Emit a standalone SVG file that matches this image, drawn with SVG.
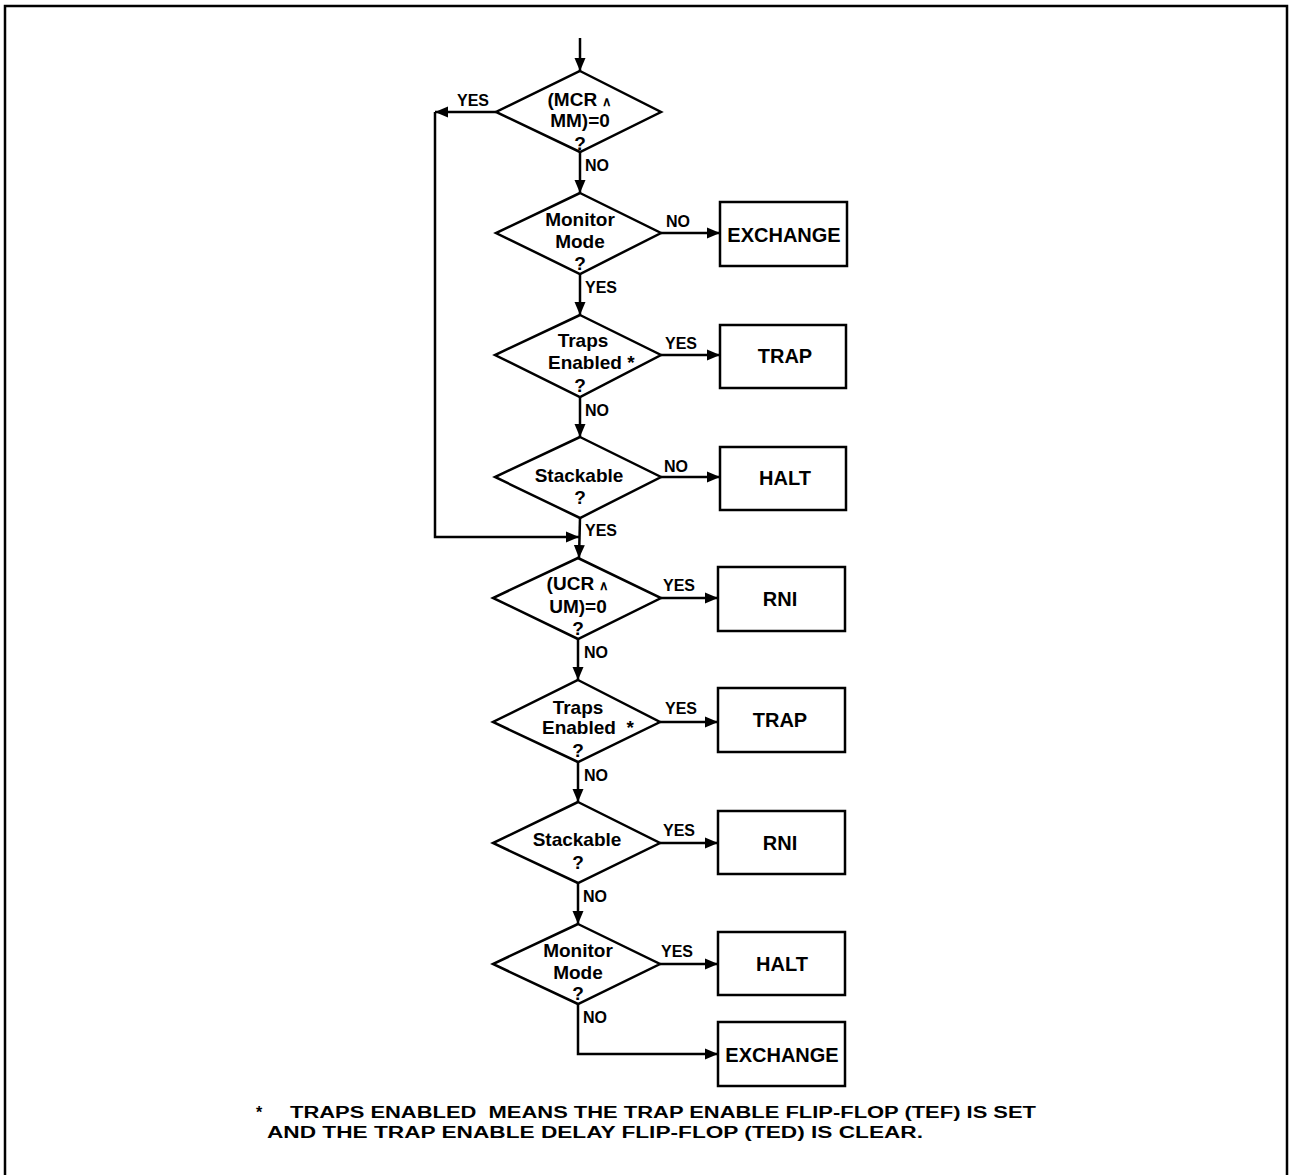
<svg xmlns="http://www.w3.org/2000/svg" width="1295" height="1175" viewBox="0 0 1295 1175">
<style>
.shape{fill:#fff;stroke:#000;stroke-width:2.5}
.line{fill:none;stroke:#000;stroke-width:2.5}
.t{font-family:"Liberation Sans",Arial,sans-serif;font-weight:bold;fill:#000}
.dt{font-size:19px;text-anchor:middle}
.ds{font-size:19px;text-anchor:start}
.bt{font-size:20px;text-anchor:middle}
.lb{font-size:16px}
.fn{font-size:16px}
</style>
<defs>
<marker id="ah" markerUnits="userSpaceOnUse" markerWidth="14" markerHeight="12" refX="13" refY="6" orient="auto">
<path d="M0,0.5 L13,6 L0,11.5 Z" fill="#000"/>
</marker>
</defs>
<rect width="1295" height="1175" fill="#fff"/>
<path d="M5,1175 V6 H1287 V1175" class="line" stroke-width="3"/>

<g id="connectors">
<path d="M580,38 V71" class="line" marker-end="url(#ah)"/>
<path d="M496,112 H435" class="line" marker-end="url(#ah)"/>
<path d="M435,112 V537 H579" class="line" marker-end="url(#ah)"/>
<path d="M580,152 V193" class="line" marker-end="url(#ah)"/>
<path d="M661,233 H720" class="line" marker-end="url(#ah)"/>
<path d="M580,274 V315" class="line" marker-end="url(#ah)"/>
<path d="M661,355 H720" class="line" marker-end="url(#ah)"/>
<path d="M580,397 V437" class="line" marker-end="url(#ah)"/>
<path d="M661,477 H720" class="line" marker-end="url(#ah)"/>
<path d="M580,518 L579,558" class="line" marker-end="url(#ah)"/>
<path d="M661,598 H718" class="line" marker-end="url(#ah)"/>
<path d="M578,639 V680" class="line" marker-end="url(#ah)"/>
<path d="M660,722 H718" class="line" marker-end="url(#ah)"/>
<path d="M578,762 V802" class="line" marker-end="url(#ah)"/>
<path d="M660,843 H718" class="line" marker-end="url(#ah)"/>
<path d="M578,883 V924" class="line" marker-end="url(#ah)"/>
<path d="M660,964 H718" class="line" marker-end="url(#ah)"/>
<path d="M578,1004 V1054 H718" class="line" marker-end="url(#ah)"/>
<text class="t lb" x="457" y="106">YES</text>
<text class="t lb" x="585" y="171">NO</text>
<text class="t lb" x="666" y="227">NO</text>
<text class="t lb" x="585" y="293">YES</text>
<text class="t lb" x="665" y="349">YES</text>
<text class="t lb" x="585" y="416">NO</text>
<text class="t lb" x="664" y="472">NO</text>
<text class="t lb" x="585" y="536">YES</text>
<text class="t lb" x="663" y="591">YES</text>
<text class="t lb" x="584" y="658">NO</text>
<text class="t lb" x="665" y="714">YES</text>
<text class="t lb" x="584" y="781">NO</text>
<text class="t lb" x="663" y="836">YES</text>
<text class="t lb" x="583" y="902">NO</text>
<text class="t lb" x="661" y="957">YES</text>
<text class="t lb" x="583" y="1023">NO</text>
</g>

<g id="d1">
<polygon class="shape" points="580,71 661,112 580,152 496,112"/>
<text class="t dt" x="580" y="106">(MCR <tspan font-size="13">∧</tspan></text>
<text class="t dt" x="580" y="127">MM)=0</text>
<text class="t dt" x="580" y="150">?</text>
</g>
<g id="d2">
<polygon class="shape" points="580,193 661,233 580,274 496,233"/>
<text class="t dt" x="580" y="226">Monitor</text>
<text class="t dt" x="580" y="248">Mode</text>
<text class="t dt" x="580" y="270">?</text>
</g>
<g id="d3">
<polygon class="shape" points="580,315 661,355 580,397 495,355"/>
<text class="t dt" x="583" y="347">Traps</text>
<text class="t ds" x="548" y="369">Enabled *</text>
<text class="t dt" x="580" y="392">?</text>
</g>
<g id="d4">
<polygon class="shape" points="580,437 661,477 580,518 495,477"/>
<text class="t dt" x="579" y="482">Stackable</text>
<text class="t dt" x="580" y="504">?</text>
</g>
<g id="d5">
<polygon class="shape" points="578,558 661,598 578,639 493,598"/>
<text class="t dt" x="578" y="590">(UCR <tspan font-size="13">∧</tspan></text>
<text class="t dt" x="578" y="613">UM)=0</text>
<text class="t dt" x="578" y="635">?</text>
</g>
<g id="d6">
<polygon class="shape" points="578,680 660,722 578,762 493,722"/>
<text class="t dt" x="578" y="714">Traps</text>
<text class="t ds" x="542" y="734" xml:space="preserve">Enabled  *</text>
<text class="t dt" x="578" y="757">?</text>
</g>
<g id="d7">
<polygon class="shape" points="578,802 660,843 578,883 493,843"/>
<text class="t dt" x="577" y="846">Stackable</text>
<text class="t dt" x="578" y="869">?</text>
</g>
<g id="d8">
<polygon class="shape" points="578,924 660,964 578,1004 493,964"/>
<text class="t dt" x="578" y="957">Monitor</text>
<text class="t dt" x="578" y="979">Mode</text>
<text class="t dt" x="578" y="1000">?</text>
</g>

<g id="b1"><rect class="shape" x="720" y="202" width="127" height="64"/><text class="t bt" x="784" y="242">EXCHANGE</text></g>
<g id="b2"><rect class="shape" x="720" y="325" width="126" height="63"/><text class="t bt" x="785" y="363">TRAP</text></g>
<g id="b3"><rect class="shape" x="720" y="447" width="126" height="63"/><text class="t bt" x="785" y="485">HALT</text></g>
<g id="b4"><rect class="shape" x="718" y="567" width="127" height="64"/><text class="t bt" x="780" y="606">RNI</text></g>
<g id="b5"><rect class="shape" x="718" y="688" width="127" height="64"/><text class="t bt" x="780" y="727">TRAP</text></g>
<g id="b6"><rect class="shape" x="718" y="811" width="127" height="63"/><text class="t bt" x="780" y="850">RNI</text></g>
<g id="b7"><rect class="shape" x="718" y="932" width="127" height="63"/><text class="t bt" x="782" y="971">HALT</text></g>
<g id="b8"><rect class="shape" x="718" y="1022" width="127" height="64"/><text class="t bt" x="782" y="1062">EXCHANGE</text></g>

<g id="footnote">
<text class="t fn" x="256" y="1118">*</text>
<text class="t fn" x="290" y="1118" xml:space="preserve" textLength="746" lengthAdjust="spacingAndGlyphs">TRAPS ENABLED  MEANS THE TRAP ENABLE FLIP-FLOP (TEF) IS SET</text>
<text class="t fn" x="267" y="1138" textLength="656" lengthAdjust="spacingAndGlyphs">AND THE TRAP ENABLE DELAY FLIP-FLOP (TED) IS CLEAR.</text>
</g>
</svg>
